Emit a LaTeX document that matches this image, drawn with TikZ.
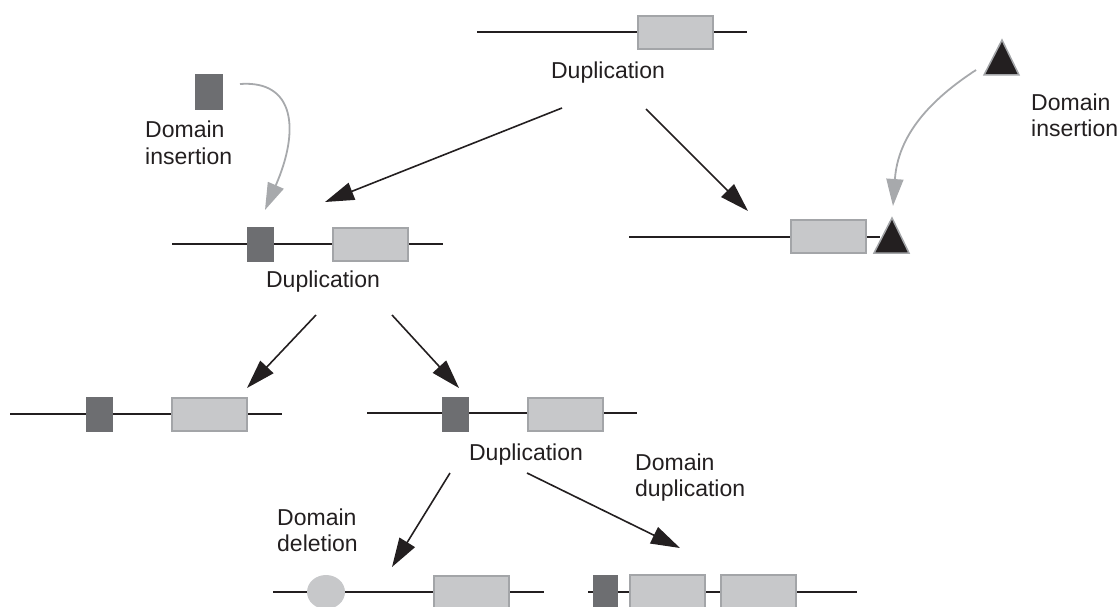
\documentclass[tikz,border=0pt]{standalone}
\usepackage{fontspec}
\setmainfont{Liberation Sans}
\usetikzlibrary{arrows.meta,shapes.geometric}
\definecolor{ink}{HTML}{231F20}
\definecolor{exonfill}{HTML}{C7C8CA}
\definecolor{exonedge}{HTML}{A3A5A8}
\definecolor{domainfill}{HTML}{6D6E71}
\definecolor{curvegrey}{HTML}{A7A9AC}

\begin{document}
\begin{tikzpicture}[x=1pt,y=-1pt,
  backbone/.style={draw=ink,line width=2.2pt},
  exon/.style={rectangle,fill=exonfill,draw=exonedge,line width=2pt,
    minimum width=75pt,minimum height=33pt,inner sep=0pt},
  domainbox/.style={rectangle,fill=domainfill,minimum width=27pt,
    minimum height=35pt,inner sep=0pt},
  lostdomain/.style={ellipse,fill=exonfill,minimum width=38pt,
    minimum height=34pt,inner sep=0pt},
  tridomain/.style={fill=ink,draw=exonedge,line width=1.5pt,line join=miter},
  lbl/.style={font=\fontsize{23}{26}\selectfont,text=ink,inner sep=0pt},
  evo/.style={draw=ink,line width=1.6pt,-{Triangle[length=29pt,width=18pt]}},
  insert/.style={draw=curvegrey,line width=1.8pt,-{Triangle[length=27pt,width=17pt]}}
]
\useasboundingbox (0,0) rectangle (1118,607);

% ancestral gene
\coordinate (a-l) at (477,32);
\coordinate (a-r) at (747,32);
\draw[backbone] (a-l) -- (a-r);
\node[exon] (a-ex) at (675.5,32.5) {};
\node[lbl,anchor=base] (a-txt) at (608,79) {Duplication};

% inserted square domain and its label (base = last line)
\node[domainbox,minimum width=28pt,minimum height=36pt] (ins-sq) at (209,92) {};
\node[lbl,align=left,anchor=base west] (ins-sq-txt) at (145,164) {Domain\\insertion};

% inserted triangular domain and its label
\coordinate (ins-tri) at (1002,58);
\filldraw[tridomain] (984,75) -- (1002,40) -- (1019,75) -- cycle;
\node[lbl,align=left,anchor=base west] (ins-tri-txt) at (1031,136) {Domain\\insertion};

% right copy with the triangle domain at its end
\coordinate (b-l) at (629,237);
\coordinate (b-r) at (880,237);
\draw[backbone] (b-l) -- (b-r);
\node[exon] (b-ex) at (828,236) {};
\filldraw[tridomain] (874,253) -- (892,218) -- (909,253) -- cycle;

% left copy with the square domain
\coordinate (c-l) at (172,244);
\coordinate (c-r) at (443,244);
\draw[backbone] (c-l) -- (c-r);
\node[domainbox] (c-dom) at (260.5,244.5) {};
\node[exon] (c-ex) at (370.5,244.5) {};
\node[lbl,anchor=base] (c-txt) at (323,287) {Duplication};

% second-round copies
\coordinate (d-l) at (10,414);
\coordinate (d-r) at (282,414);
\draw[backbone] (d-l) -- (d-r);
\node[domainbox] (d-dom) at (99.5,414.5) {};
\node[exon] (d-ex) at (209.5,414.5) {};

\coordinate (e-l) at (367,413);
\coordinate (e-r) at (637,413);
\draw[backbone] (e-l) -- (e-r);
\node[domainbox] (e-dom) at (455.5,414) {};
\node[exon] (e-ex) at (565,414) {};
\node[lbl,anchor=base] (e-txt) at (526,460) {Duplication};

\node[lbl,align=left,anchor=base west] (del-txt) at (277,551) {Domain\\deletion};
\node[lbl,align=left,anchor=base west] (dup-txt) at (635,496) {Domain\\duplication};

% third-round copies
\coordinate (f-l) at (273,592);
\coordinate (f-r) at (544,592);
\draw[backbone] (f-l) -- (f-r);
\node[lostdomain] (f-dom) at (326,592) {};
\node[exon] (f-ex) at (471.5,592.5) {};

\coordinate (g-l) at (588,592);
\coordinate (g-r) at (857,592);
\draw[backbone] (g-l) -- (g-r);
\node[domainbox,minimum width=25pt] (g-dom) at (605,592.5) {};
\node[exon] (g-ex) at (667,591.5) {};
\node[exon] (g-ex2) at (758.5,591.5) {};

% evolutionary steps
\coordinate (a-s1) at (562,108);  \coordinate (c-in) at (325,202);
\coordinate (a-s2) at (646,109);  \coordinate (b-in) at (748,211);
\coordinate (c-s1) at (316,315);  \coordinate (d-in) at (247,388);
\coordinate (c-s2) at (392,315);  \coordinate (e-in) at (459,388);
\coordinate (e-s1) at (450,473);  \coordinate (f-in) at (392,567);
\coordinate (e-s2) at (527,473);  \coordinate (g-in) at (680,548);
\draw[evo] (a-s1) -- (c-in);
\draw[evo] (a-s2) -- (b-in);
\draw[evo] (c-s1) -- (d-in);
\draw[evo] (c-s2) -- (e-in);
\draw[evo] (e-s1) -- (f-in);
\draw[evo] (e-s2) -- (g-in);

% domain insertions
\coordinate (sq-from) at (240,84);  \coordinate (sq-to) at (265,210);
\coordinate (tri-from) at (976,70); \coordinate (tri-to) at (893,206);
\draw[insert] (sq-from) .. controls (295,80) and (300,130) .. (sq-to);
\draw[insert] (tri-from) .. controls (930,100) and (898,135) .. (tri-to);
\end{tikzpicture}
\end{document}
